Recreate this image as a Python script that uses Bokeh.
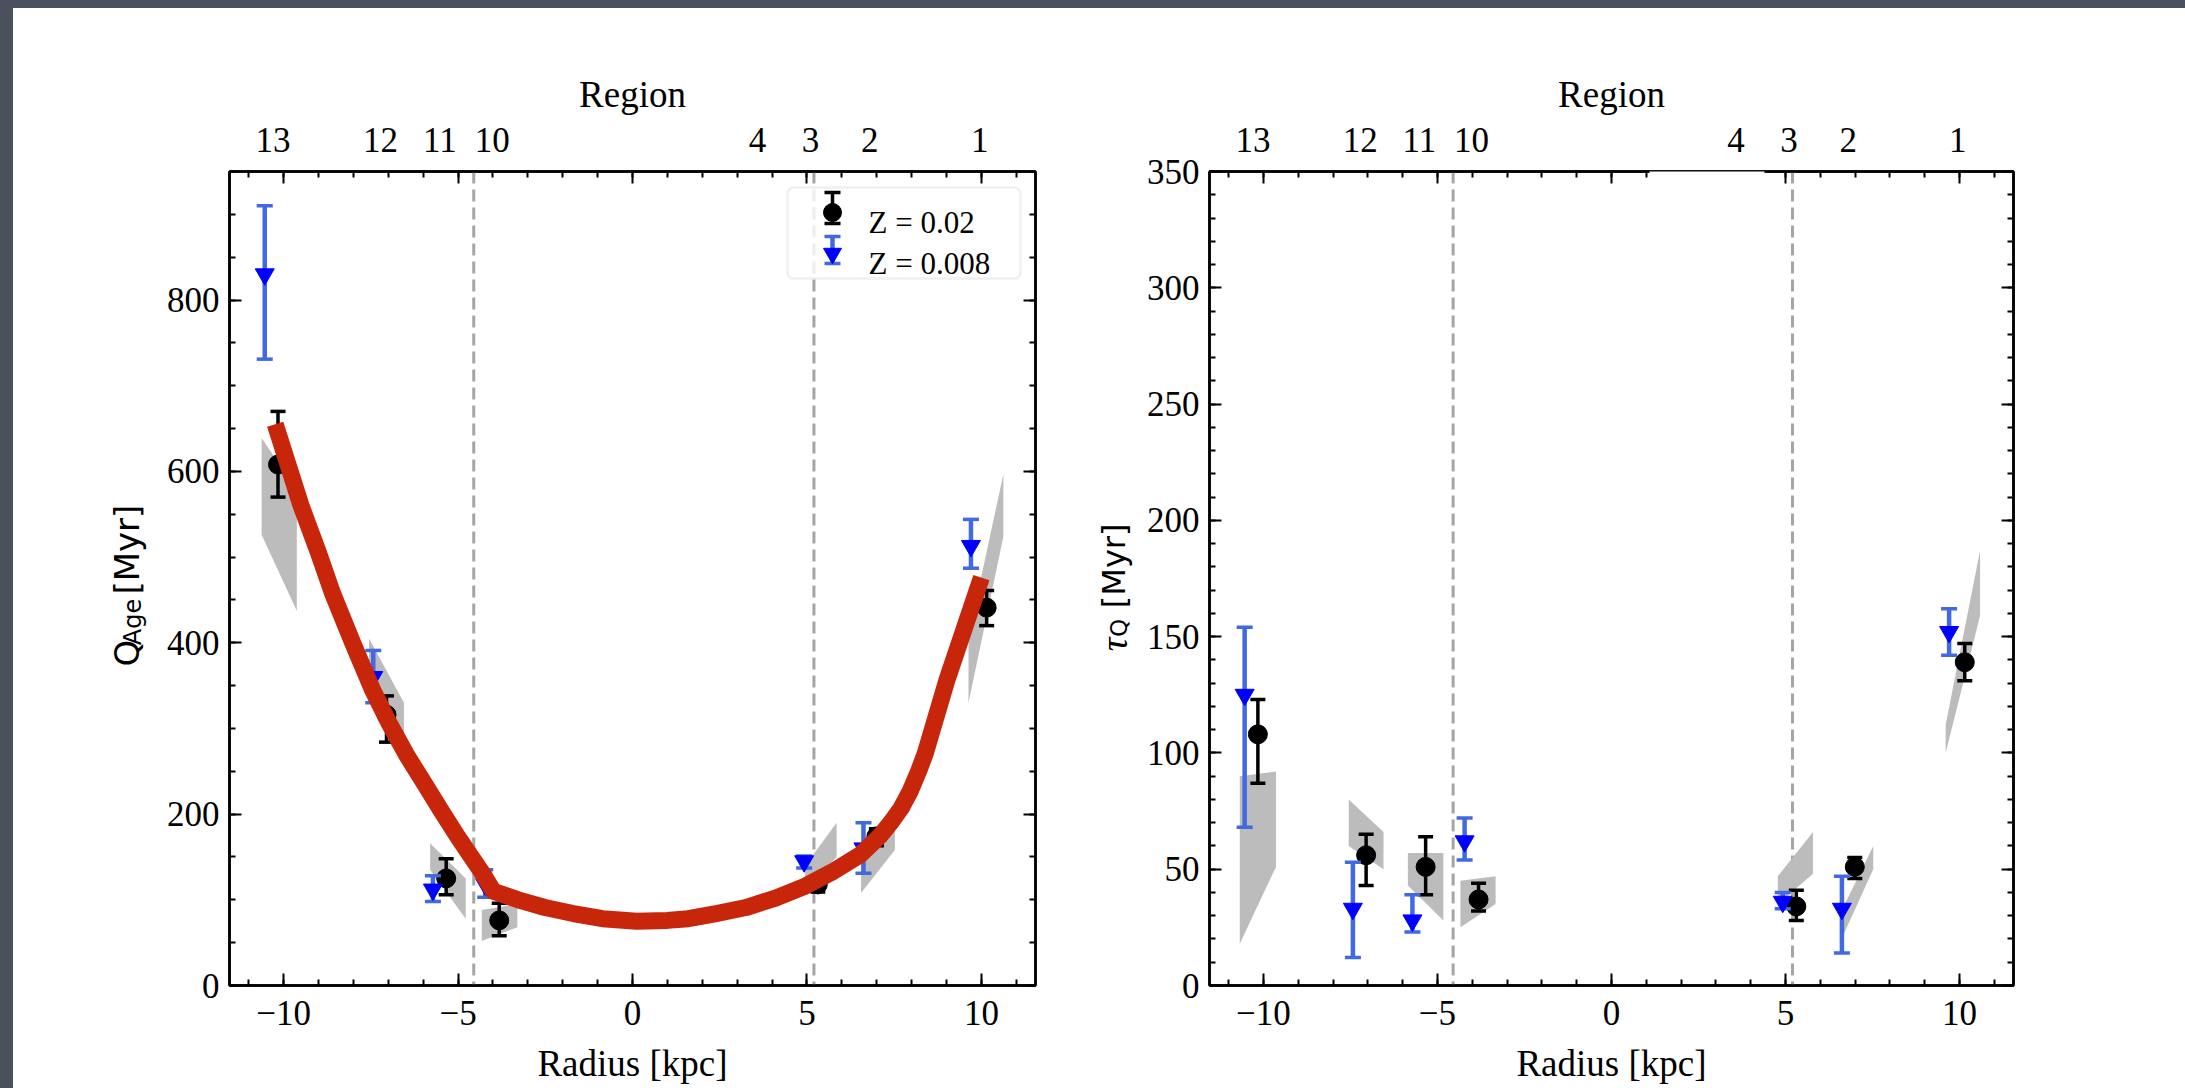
import math
from bokeh.plotting import figure
from bokeh.models import (LinearAxis, Range1d, SingleIntervalTicker, FixedTicker,
                          Span, BoxAnnotation, Label, Div, CustomLabelingPolicy)
from bokeh.core.properties import value
from bokeh.layouts import row, column
from bokeh.embed import file_html
from bokeh.resources import INLINE

# ---------------- data ----------------
REGION_LABELS = ["13", "12", "11", "10", "4", "3", "2", "1"]
REGION_POS = [-10.3, -7.22, -5.52, -4.02, 3.58, 5.1, 6.8, 9.95]
BOUNDARY_R = [-4.55, 5.2]

# Z = 0.02 (black circles)
R_Z02 = [-10.16, -7.05, -5.34, -3.82, 5.31, 6.99, 10.15]
AGE_Z02 = [608, 316, 125, 76, 118, 174, 441]
AGE_Z02_LO = [570, 284, 106, 58, 109, 163, 420]
AGE_Z02_HI = [670, 338, 148, 96, 128, 183, 461]
TAU_Z02 = [108, 56, 51, 37, 34, 51, 139]
TAU_Z02_LO = [87, 43, 39, 32, 28, 46, 131]
TAU_Z02_HI = [123, 65, 64, 44, 41, 55, 147]

# Z = 0.008 (blue triangles)
R_Z008 = [-10.54, -7.43, -5.72, -4.22, 4.92, 6.62, 9.70]
AGE_Z008 = [830, 360, 112, 118, 145, 160, 513]
AGE_Z008_LO = [731, 330, 98, 103, 137, 131, 487]
AGE_Z008_HI = [910, 391, 128, 135, 151, 190, 544]
TAU_Z008 = [125, 33, 28, 62, 36, 33, 152]
TAU_Z008_LO = [68, 12, 23, 54, 33, 14, 142]
TAU_Z008_HI = [154, 53, 39, 72, 40, 47, 162]

# grey bands per region: radius ends, lower and upper edge at each end
BAND_R0 = [-10.63, -7.55, -5.80, -4.32, 4.95, 6.55, 9.63]
BAND_R1 = [-9.62, -6.55, -4.78, -3.30, 5.85, 7.52, 10.63]
AGE_BAND_LO0 = [526, 360, 135, 52, 112, 108, 330]
AGE_BAND_LO1 = [437, 285, 78, 68, 150, 158, 524]
AGE_BAND_HI0 = [639, 405, 166, 88, 140, 145, 408]
AGE_BAND_HI1 = [578, 330, 125, 95, 190, 192, 597]

TBAND_R0 = [-10.68, -7.55, -5.85, -4.34, 4.78, 6.64, 9.60]
TBAND_R1 = [-9.64, -6.55, -4.83, -3.33, 5.79, 7.52, 10.59]
TAU_BAND_LO0 = [18, 60, 43, 25, 35, 21, 100]
TAU_BAND_LO1 = [51, 50, 28, 35, 48, 50, 159]
TAU_BAND_HI0 = [90, 80, 57, 45, 47, 33, 112]
TAU_BAND_HI1 = [92, 66, 57, 47, 66, 60, 187]

# red fit curve (left panel)
FIT_R = [-10.24, -9.5, -9.0, -8.6, -8.0, -7.45, -7.0, -6.46, -6.0, -5.47, -5.0, -4.65,
         -4.3, -3.99, -3.2, -2.51, -1.7, -0.86, 0.12, 1.0, 1.6, 2.4, 3.25, 4.1, 4.9,
         5.7, 6.54, 7.1, 7.4, 7.7, 7.95, 8.2, 8.4, 9.0, 10.0]
FIT_AGE = [655, 560, 505, 458, 398, 345, 308, 268, 238, 203, 173, 152, 131, 110, 99,
           91, 84, 78, 75, 76, 78, 84, 91, 102, 115, 132, 153, 175, 190, 207, 226,
           250, 272, 355, 476]

LEGEND_LABELS = ["Z = 0.02", "Z = 0.008"]
Y_LABEL_LEFT = ["Q", "Age", "[Myr]"]
Y_LABEL_RIGHT = ["\u03c4", "Q", "[Myr]"]

# ---------------- styling / layout ----------------
X_START, X_END = -11.55, 11.55
AGE_MAX, TAU_MAX = 950, 350
FRAME_H = 814
FIG_H = 1080
SERIF = "Liberation Serif"
SANS = "DejaVu Sans"
TICK_FS = "35px"
LABEL_FS = "37px"
BLACK = "black"
BLUE_LINE = "#4169e1"
BLUE_MARK = "#0000ff"
GREY = "#bcbcbc"
RED = "#c8260b"
DARK = "#4b505d"

NO_LABELS = CustomLabelingPolicy(code="return new Set()")


def style_axis(ax, labels=True):
    ax.axis_line_color = BLACK
    ax.axis_line_width = 2.5
    ax.major_tick_line_color = BLACK
    ax.major_tick_line_width = 2
    ax.major_tick_in = 12
    ax.major_tick_out = 0
    ax.minor_tick_line_color = BLACK
    ax.minor_tick_line_width = 2
    ax.minor_tick_in = 6
    ax.minor_tick_out = 0
    ax.major_label_text_font = SERIF
    ax.major_label_text_color = BLACK
    ax.major_label_text_font_size = TICK_FS
    ax.axis_label_text_font = SERIF
    ax.axis_label_text_font_size = LABEL_FS
    ax.axis_label_text_font_style = "normal"
    ax.axis_label_text_color = BLACK
    if not labels:
        ax.major_label_text_font_size = "1px"
        ax.major_label_standoff = 0
        ax.major_label_policy = NO_LABELS


def make_panel(frame_w, min_left, min_right, y_max, y_int, y_minor):
    p = figure(frame_width=frame_w, frame_height=FRAME_H,
               x_range=Range1d(X_START, X_END), y_range=Range1d(0, y_max),
               min_border_left=min_left, min_border_right=min_right,
               min_border_top=163, min_border_bottom=100,
               output_backend="svg", toolbar_location=None,
               background_fill_color="white", border_fill_color="white",
               outline_line_color=BLACK, outline_line_width=2.5)
    p.xgrid.visible = False
    p.ygrid.visible = False
    xt = SingleIntervalTicker(interval=5, num_minor_ticks=5)
    yt = SingleIntervalTicker(interval=y_int, num_minor_ticks=y_minor)
    xa = p.xaxis[0]
    ya = p.yaxis[0]
    xa.ticker = xt
    ya.ticker = yt
    style_axis(xa)
    style_axis(ya)
    xa.axis_label = "Radius [kpc]"
    xa.major_label_standoff = 15
    xa.axis_label_standoff = 15
    xa.major_label_overrides = {-10: "\u221210", -5: "\u22125"}
    ya.major_label_standoff = 10

    top = LinearAxis(ticker=xt)
    style_axis(top, labels=False)
    p.add_layout(top, "above")
    reg = LinearAxis(ticker=FixedTicker(ticks=REGION_POS),
                     major_label_overrides=dict(zip(REGION_POS, REGION_LABELS)))
    style_axis(reg)
    reg.axis_line_color = None
    reg.major_tick_in = 0
    reg.major_tick_out = 0
    reg.minor_tick_in = 0
    reg.minor_tick_out = 0
    reg.major_label_standoff = 16
    reg.axis_label = "Region"
    reg.axis_label_standoff = 10
    p.add_layout(reg, "above")
    right = LinearAxis(ticker=yt)
    style_axis(right, labels=False)
    p.add_layout(right, "right")

    for b in BOUNDARY_R:
        p.add_layout(Span(location=b, dimension="height", line_color="#a5a5a5",
                          line_width=3, line_dash="12 6", level="underlay"))
    return p


def draw_bands(p, r0, r1, lo0, lo1, hi0, hi1):
    xs = [[a, b, b, a] for a, b in zip(r0, r1)]
    ys = [[l0, l1, h1, h0] for l0, l1, h0, h1 in zip(lo0, lo1, hi0, hi1)]
    p.patches(xs, ys, fill_color=GREY, line_color=None)


def draw_errorbars(p, r, v, lo, hi, line_color, line_w, cap, marker, mark_color, size):
    p.segment(x0=r, y0=lo, x1=r, y1=hi, line_color=line_color, line_width=line_w)
    p.scatter(x=r + r, y=lo + hi, marker="dash", size=cap, line_color=line_color,
              line_width=3.5)
    p.scatter(x=r, y=v, marker=marker, size=size, fill_color=mark_color,
              line_color=mark_color)


def label_fig(width, items):
    f = figure(width=width, height=FIG_H, x_range=Range1d(0, width),
               y_range=Range1d(0, FIG_H), min_border=0, x_axis_location=None,
               y_axis_location=None, toolbar_location=None, output_backend="svg",
               outline_line_color=None, background_fill_color="white",
               border_fill_color="white")
    f.xgrid.visible = False
    f.ygrid.visible = False
    for txt, x, y, font, size, style in items:
        f.text(x=[x], y=[y], text=[txt], angle=math.pi / 2, text_font=value(font),
               text_font_size=value(size), text_font_style=value(style),
               text_align="left", text_baseline="alphabetic", text_color=BLACK)
    return f


# ---------------- left panel: Q_Age ----------------
FW1 = 806
p1 = make_panel(FW1, 71, 45, AGE_MAX, 200, 4)
draw_bands(p1, BAND_R0, BAND_R1, AGE_BAND_LO0, AGE_BAND_LO1, AGE_BAND_HI0, AGE_BAND_HI1)
draw_errorbars(p1, R_Z02, AGE_Z02, AGE_Z02_LO, AGE_Z02_HI, BLACK, 3.5, 15, "circle", BLACK, 19)
draw_errorbars(p1, R_Z008, AGE_Z008, AGE_Z008_LO, AGE_Z008_HI, BLUE_LINE, 4.5, 16,
               "inverted_triangle", BLUE_MARK, 19)
p1.line(FIT_R, FIT_AGE, line_color=RED, line_width=17, line_cap="butt", line_join="round")


def lx(px):
    return X_START + px * (X_END - X_START) / FW1


def ly(py):
    return AGE_MAX - py * AGE_MAX / FRAME_H


# legend (pixel offsets from the frame's top-left corner)
p1.add_layout(BoxAnnotation(left=lx(558), right=lx(791), top=ly(16), bottom=ly(107),
                            fill_color="white", fill_alpha=0.8, line_color="#cccccc",
                            line_width=2.5, border_radius=6))
LEG_ROWS = [(41, 21, 52, BLACK, BLACK, "circle", 3.5),
            (82, 65, 92, BLUE_LINE, BLUE_MARK, "inverted_triangle", 4.5)]
for (cy, ty, by, lc, mc, mk, lw), txt in zip(LEG_ROWS, LEGEND_LABELS):
    p1.segment(x0=[lx(603)], y0=[ly(ty)], x1=[lx(603)], y1=[ly(by)], line_color=lc,
               line_width=lw, level="overlay")
    p1.scatter(x=[lx(603), lx(603)], y=[ly(ty), ly(by)], marker="dash", size=16,
               line_color=lc, line_width=3.5, level="overlay")
    p1.scatter(x=[lx(603)], y=[ly(cy)], marker=mk, size=18, fill_color=mc,
               line_color=mc, level="overlay")
    p1.add_layout(Label(x=X_START, y=AGE_MAX, x_offset=639, y_offset=-(cy + 10), text=txt,
                        text_font=SERIF, text_font_size="31px", text_color=BLACK,
                        text_baseline="alphabetic", text_align="left"))

# ---------------- right panel: tau_Q ----------------
FW2 = 804
p2 = make_panel(FW2, 69, 172, TAU_MAX, 50, 5)
draw_bands(p2, TBAND_R0, TBAND_R1, TAU_BAND_LO0, TAU_BAND_LO1, TAU_BAND_HI0, TAU_BAND_HI1)
draw_errorbars(p2, R_Z02, TAU_Z02, TAU_Z02_LO, TAU_Z02_HI, BLACK, 3.5, 15, "circle", BLACK, 19)
draw_errorbars(p2, R_Z008, TAU_Z008, TAU_Z008_LO, TAU_Z008_HI, BLUE_LINE, 4.5, 16,
               "inverted_triangle", BLUE_MARK, 19)


def rx(px):
    return X_START + px * (X_END - X_START) / FW2


def ry(py):
    return TAU_MAX - py * TAU_MAX / FRAME_H


# small white patch that hides part of the top spine in the original
p2.add_layout(BoxAnnotation(left=rx(440), right=rx(555), top=ry(-8), bottom=ry(14),
                            fill_color="white", fill_alpha=1.0, line_color=None,
                            level="overlay"))

# ---------------- rotated y-axis titles ----------------
lab1 = label_fig(145, [
    (Y_LABEL_LEFT[0], 113, 425, SANS, "34px", "normal"),
    (Y_LABEL_LEFT[1], 119, 453, SANS, "24px", "normal"),
    (Y_LABEL_LEFT[2], 113, 520, SANS, "34px", "normal"),
])
lab2 = label_fig(60, [
    (Y_LABEL_RIGHT[0], 33, 445, SERIF, "38px", "italic"),
    (Y_LABEL_RIGHT[1], 38, 464, SANS, "23px", "normal"),
    (Y_LABEL_RIGHT[2], 33, 502, SANS, "32px", "normal"),
])

top_band = Div(text="", width=2185, height=8, margin=0,
               styles={"background-color": DARK})
left_band = Div(text="", width=13, height=FIG_H + 20, margin=0,
                styles={"background-color": DARK})
layout = column(top_band, row(left_band, lab1, p1, lab2, p2, spacing=0), spacing=0)

open("out.html", "w").write(file_html(layout, INLINE))
